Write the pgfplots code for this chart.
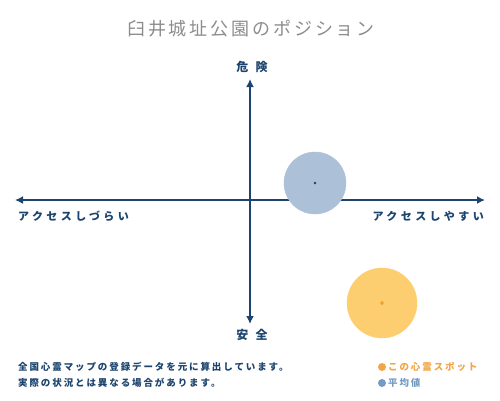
\documentclass[border=0pt]{standalone}
\usepackage{pgfplots}
\pgfplotsset{compat=1.18}
\usetikzlibrary{arrows.meta}
\usepackage{fontspec}
\setmainfont{Noto Sans CJK JP}
\newfontfamily\jp[LetterSpace=20]{Noto Sans CJK JP}
\newfontfamily\jptitle[LetterSpace=16]{Noto Sans CJK JP}
\newfontfamily\jpside[LetterSpace=31]{Noto Sans CJK JP}
\newfontfamily\jpwide[LetterSpace=60]{Noto Sans CJK JP}
\definecolor{axisnavy}{RGB}{28,68,110}
\definecolor{avgfill}{RGB}{172,192,216}
\definecolor{spotfill}{RGB}{253,206,112}
\definecolor{spotdot}{RGB}{240,160,40}
\definecolor{titlegray}{RGB}{140,140,140}
\definecolor{legorange}{RGB}{240,165,70}
\definecolor{legblue}{RGB}{115,155,195}

\begin{document}
\begin{tikzpicture}
\path[use as bounding box] (0,0) rectangle (500pt,400pt);
\begin{axis}[
    at={(0,0)}, anchor=south west,
    scale only axis, width=500pt, height=400pt,
    xmin=0, xmax=500, ymin=0, ymax=400,
    y dir=reverse,
    hide axis, clip=false,
]
% average (blue) and this spot (orange)
\addplot[only marks, mark=*, mark size=31pt, color=avgfill, draw=none, fill=avgfill]
    coordinates {(315,183)};
\addplot[only marks, mark=*, mark size=35pt, color=spotfill, draw=none, fill=spotfill]
    coordinates {(382,303)};
\addplot[only marks, mark=*, mark size=1pt, color=axisnavy, draw=none, fill=axisnavy]
    coordinates {(315,183)};
\addplot[only marks, mark=diamond*, mark size=2pt, color=spotdot, draw=none, fill=spotdot]
    coordinates {(382,303)};
% axes
\addplot[axisnavy, line width=2.2pt, {Latex[length=8pt,width=8pt]}-{Latex[length=8pt,width=8pt]}]
    coordinates {(15,200) (485,200)};
\addplot[axisnavy, line width=2.2pt, {Latex[length=8pt,width=8pt]}-{Latex[length=8pt,width=8pt]}]
    coordinates {(250,79) (250,324)};
% labels
\node[titlegray, font=\fontsize{18}{18}\selectfont\jptitle] at (axis cs:251,29) {臼井城址公園のポジション};
\node[axisnavy, font=\fontsize{12}{12}\selectfont\bfseries\jpwide] at (axis cs:252,67) {危険};
\node[axisnavy, font=\fontsize{12}{12}\selectfont\bfseries\jpwide] at (axis cs:252,335) {安全};
\node[axisnavy, anchor=west, font=\fontsize{11}{11}\selectfont\bfseries\jpside, inner sep=0pt] at (axis cs:18,216) {アクセスしづらい};
\node[axisnavy, anchor=east, font=\fontsize{11}{11}\selectfont\bfseries\jpside, inner sep=0pt] at (axis cs:484,216) {アクセスしやすい};
\node[axisnavy, anchor=west, font=\fontsize{9.5}{9.5}\selectfont\bfseries\jp, inner sep=0pt] at (axis cs:18,367) {全国心霊マップの登録データを元に算出しています。};
\node[axisnavy, anchor=west, font=\fontsize{9.5}{9.5}\selectfont\bfseries\jp, inner sep=0pt] at (axis cs:18,383) {実際の状況とは異なる場合があります。};
\node[legorange, anchor=west, font=\fontsize{9.5}{9.5}\selectfont\bfseries\jp, inner sep=0pt] at (axis cs:388,367) {この心霊スポット};
\node[legblue, anchor=west, font=\fontsize{9.5}{9.5}\selectfont\bfseries\jp, inner sep=0pt] at (axis cs:388,383) {平均値};
\end{axis}
% legend dots
\fill[legorange] (382pt,400pt-367pt) circle (4pt);
\fill[legblue] (382pt,400pt-383pt) circle (4pt);
\end{tikzpicture}
\end{document}
